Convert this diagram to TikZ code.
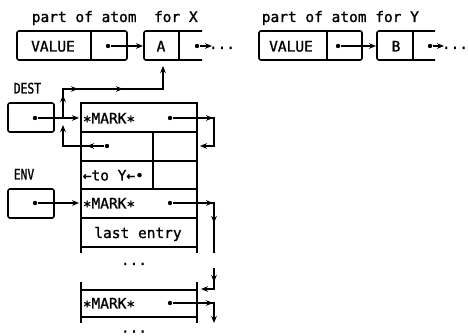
\documentclass[tikz,border=0pt]{standalone}
\usepackage{fontspec}
\newfontfamily\mytt[FakeBold=1.2]{DejaVu Sans Mono}
\newfontfamily\narrowtt[FakeStretch=0.78,FakeBold=1.2]{DejaVu Sans Mono}
\usetikzlibrary{arrows.meta,decorations.markings}
\newcommand{\myast}{\raisebox{-3pt}{*}}
\begin{document}
\begin{tikzpicture}[x=1pt,y=-1pt,line width=1.6pt,
  >={Stealth[length=7pt,width=5.6pt]},
  txt/.style={font=\mytt\fontsize{14.5}{17}\selectfont, inner sep=0pt},
  ntxt/.style={font=\narrowtt\fontsize{14.5}{17}\selectfont, inner sep=0pt},
  cell/.style={draw, rounded corners=2pt, minimum height=29pt, inner sep=0pt, outer sep=0pt, anchor=north west},
  pt/.style={circle, fill, inner sep=0pt, minimum size=4.4pt},
  marks/.style={postaction=decorate, decoration={markings, #1}}]
\useasboundingbox (0,0) rectangle (468,336);
% ---------- titles
\node[txt, anchor=base west] (tx) at (31,22) {part of atom\ \ for X};
\node[txt, anchor=base west] (ty) at (261,22) {part of atom for Y};
% ---------- atom X
\node[cell, minimum width=110pt] (vx) at (17,31) {};
\draw (91,31) -- (91,60);
\node[txt, anchor=base] (vxl) at (53,51.5) {VALUE};
\node[pt] (vxd) at (108,46) {};
\draw[rounded corners=2pt] (202,31) -- (144,31) -- (144,60) -- (202,60);
\draw (179,31) -- (179,60);
\coordinate (ain) at (143,46);
\node[txt, anchor=base] (al) at (161,51.5) {A};
\node[pt] (ad) at (197,46) {};
\coordinate (aout) at (212,46);
\node[txt, anchor=base] (adots) at (222,49) {...};
\coordinate (abot) at (163,66);
\draw[->] (vxd) -- (ain);
\draw[->] (ad) -- (aout);
% ---------- atom Y
\node[cell, minimum width=103pt] (vy) at (259,31) {};
\draw (327,31) -- (327,60);
\node[txt, anchor=base] (vyl) at (291,51.5) {VALUE};
\node[pt] (vyd) at (338,46) {};
\draw[rounded corners=2pt] (435,31) -- (377,31) -- (377,60) -- (435,60);
\draw (413,31) -- (413,60);
\coordinate (bin) at (376,46);
\node[txt, anchor=base] (bl) at (396,51.5) {B};
\node[pt] (bd) at (430,46) {};
\coordinate (bout) at (444,46);
\node[txt, anchor=base] (bdots) at (455,49) {...};
\draw[->] (vyd) -- (bin);
\draw[->] (bd) -- (bout);
% ---------- DEST
\node[ntxt, anchor=base west] (destl) at (13,93.5) {DEST};
\node[cell, minimum width=46pt] (dest) at (8,103) {};
\node[pt] (dd) at (35,118) {};
% ---------- ENV
\node[ntxt, anchor=base west] (envl) at (13,179.5) {ENV};
\node[cell, minimum width=46pt] (env) at (8,189) {};
\node[pt] (ed) at (35,203) {};
% ---------- stack 1
\draw (81,253) -- (81,103) -- (197,103) -- (197,253);
\foreach \yy in {132,161,189,218,247} \draw (81,\yy) -- (197,\yy);
\draw (153,132) -- (153,189);
\node[txt, anchor=base west] (mk1) at (82,123.5) {\myast MARK\myast};
\node[pt] (m1d) at (170,118) {};
\node[pt] (r2d) at (107,146) {};
\node[txt, anchor=base west] (toy) at (82,180.5) {←to Y←•};
\node[txt, anchor=base west] (mk4) at (82,208.5) {\myast MARK\myast};
\node[pt] (m4d) at (170,203) {};
\node[txt, anchor=base] (last) at (138,238) {last entry};
\node[txt, anchor=base] (dots1) at (134,265) {...};
% ---------- stack 2
\draw (81,282) -- (81,323);
\draw (197,282) -- (197,323);
\draw (81,290) -- (197,290);
\draw (81,317) -- (197,317);
\node[txt, anchor=base west] (mk5) at (82,308.5) {\myast MARK\myast};
\node[pt] (m5d) at (170,303) {};
\node[txt, anchor=base] (dots2) at (134,332.5) {...};
% ---------- connectors
\coordinate (s1) at (79,118);
\coordinate (s4) at (79,203);
\draw[->] (dd) -- (s1);
\draw[->] (ed) -- (s4);
\coordinate (j1) at (63,118);
\coordinate (j2) at (63,89);
\coordinate (j3) at (163,89);
\draw[->, marks={mark=at position 23pt with {\arrow{>}}, mark=at position 44pt with {\arrow{>}}, mark=at position 89pt with {\arrow{>}}}] (j1) -- (j2) -- (j3) -- (abot);
\coordinate (c1) at (214,118);
\coordinate (e1) at (200,146);
\draw[->, marks={mark=at position 40pt with {\arrow{>}}}] (m1d) -- (c1) |- (e1);
\coordinate (k1) at (63,146);
\coordinate (k2) at (63,125);
\draw[->, marks={mark=at position 17pt with {\arrow{>}}}] (r2d) -- (k1) -- (k2);
\coordinate (c4) at (214,203);
\coordinate (b4) at (214,253);
\draw[marks={mark=at position 40pt with {\arrow{>}}, mark=at position 61pt with {\arrow{>}}}] (m4d) -- (c4) -- (b4);
\coordinate (t1) at (214,268);
\coordinate (t2) at (214,289);
\coordinate (t3) at (201,289);
\draw[->, marks={mark=at position 14pt with {\arrow{>}}}] (t1) -- (t2) -- (t3);
\coordinate (c5) at (214,303);
\coordinate (b5) at (214,323);
\draw[->, marks={mark=at position 40pt with {\arrow{>}}}] (m5d) -- (c5) -- (b5);
\end{tikzpicture}
\end{document}
